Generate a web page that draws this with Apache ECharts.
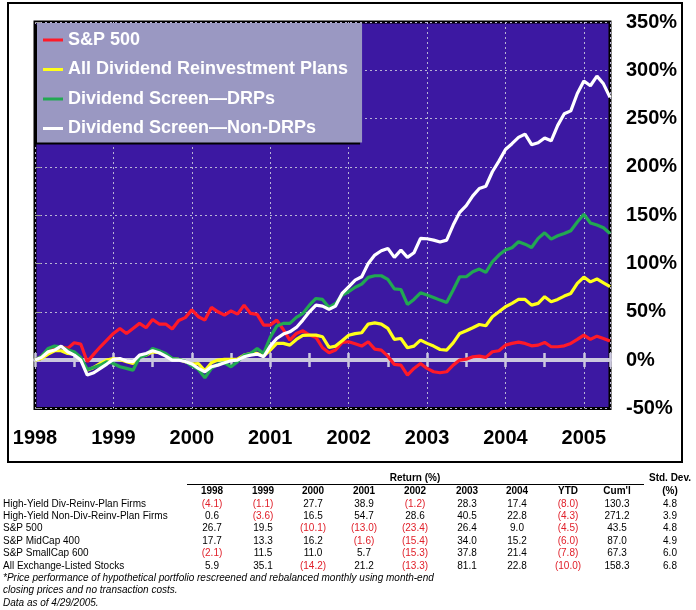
<!DOCTYPE html>
<html>
<head>
<meta charset="utf-8">
<script src="https://cdn.jsdelivr.net/npm/echarts@6.0.0/dist/echarts.min.js"></script>
<style>
html,body{margin:0;padding:0;background:#fff;}
#chart{width:696px;height:610px;}
</style>
</head>
<body>
<div id="chart"></div>
<script>
// ---- chart data (monthly, Dec 1997 = 0 .. Apr 2005) ----
const yearLabels = ['1998','1999','2000','2001','2002','2003','2004','2005'];
const seriesNames = ['S&P 500','All Dividend Reinvestment Plans','Dividend Screen\u2014DRPs','Dividend Screen\u2014Non-DRPs'];
const sp500 = [0,4.1,10.4,13.8,13.8,12.1,18,16.6,-1.7,6.2,13.8,20.7,
  27.6,32.8,27.6,32.8,38,33.5,42.1,37.3,37.3,32.1,41,44,
  52,44.9,41.4,54.5,50,46.6,51,47.6,56.9,48.3,47.3,36.2,
  36.2,41.4,31.7,20.7,27.6,30.4,25.9,23.5,12.8,7.6,10.4,18.3,
  19,17,14.5,19,11.4,10.4,4.1,-4.5,-5.2,-15.5,-8.6,-3.5,
  -8.6,-12.1,-13.1,-12.1,-5.2,0,1,3.5,4.1,2.8,8.6,9.7,
  15.5,17.3,18.6,17.3,14.8,15.5,18.3,13.8,13.8,14.8,17.3,21.4,
  25.9,21.4,24.8,22.4,19.7];
const allDrps = [0,1.7,6.2,9.7,9.7,6.9,6.2,0.7,-10.4,-7.6,-3.5,0,
  1.7,0.7,-1.7,-3.5,3.5,5.2,8.6,7.6,5.2,1.4,0.7,-1.7,
  -4.1,-3.5,-11,-2.8,0,0.7,0.7,1,5.2,6.9,6.9,4.1,
  10.4,17.3,17.3,15.5,21.4,25.5,25.9,25.9,24.2,13.1,14.5,20,
  25.7,27.4,28.3,37.3,38.6,37.3,32.8,21.4,22.4,12.8,14.5,20.7,
  17.3,14.5,11,10.4,17.9,27.6,30.4,33.5,36.9,35.5,44.9,50,
  55.2,58.7,62.8,62.8,56.9,58.7,65.6,60.4,62.8,66.3,69,79.4,
  86,81,84,80,76];
const screenDrps = [0,4.1,12.1,14.5,13.8,10.4,8.6,2.8,-9.7,-7.6,-5.2,-1.7,
  -3.5,-6.9,-8.6,-10.4,2.8,5.2,12.1,9.7,6.9,1.7,0.7,-1.2,
  -6,-9.7,-18.3,-8.6,-4.1,-2.8,-6.9,-1.7,5.2,6.9,12.1,6.9,
  23.5,35.2,38,38,44.2,48.3,56.9,63.8,62.8,54.5,58.7,67.3,
  70.8,75.4,78.7,85.6,87.3,87.3,83.5,73.8,73.1,57.6,62.8,69.7,
  67.3,64.9,62.1,59.7,72.5,86.3,86.3,91.4,94.2,90.8,101.8,108.7,
  113.9,116.3,122.5,120,116.6,126,131.8,125.3,128.7,131,133.9,143,
  151,142,139.8,137,131];
const screenNonDrps = [0,2.8,8.6,10.4,14.5,8.6,5.2,0,-15.5,-13.1,-8.6,-4.1,
  0.7,1.7,-1,-1.7,5.2,6.9,9.7,7.6,4.1,0,0,-1.4,
  -4,-8.6,-12.1,-6.9,-5.2,-2.8,-0.7,0,3.5,5.2,6.2,3.5,
  14.5,22.4,26.9,29.3,33.8,41.4,50,56.9,55.9,52.5,55.9,69,
  75.7,82.8,86.3,100,108.7,113.2,115.6,106.3,113.9,106.3,111.1,126,
  125.6,124.2,122.2,124.2,139.8,153,160,170,177.7,180,195,206,
  218,224,230.5,234,223,225,230,227,243,255,258,276,
  289,284,294,286,272];
const yTicks = [-50,0,50,100,150,200,250,300,350];

// ---- table data ----
const tableCols = ['1998','1999','2000','2001','2002','2003','2004','YTD',"Cum'l"];
const rowLabels = ['High-Yield Div-Reinv-Plan Firms','High-Yield Non-Div-Reinv-Plan Firms','S&P 500','S&P MidCap 400','S&P SmallCap 600','All Exchange-Listed Stocks'];
const rowHYDiv = [-4.1,-1.1,27.7,38.9,-1.2,28.3,17.4,-8.0,130.3,4.8];
const rowHYNonDiv = [0.6,-3.6,16.5,54.7,28.6,40.5,22.8,-4.3,271.2,3.9];
const rowSP500 = [26.7,19.5,-10.1,-13.0,-23.4,26.4,9.0,-4.5,43.5,4.8];
const rowMid400 = [17.7,13.3,16.2,-1.6,-15.4,34.0,15.2,-6.0,87.0,4.9];
const rowSmall600 = [-2.1,11.5,11.0,5.7,-15.3,37.8,21.4,-7.8,67.3,6.0];
const rowAllListed = [5.9,35.1,-14.2,21.2,-13.3,81.1,22.8,-10.0,158.3,6.8];
const footnotes = ['*Price performance of hypothetical portfolio rescreened and rebalanced monthly using month-end',
  'closing prices and no transaction costs.',
  'Data as of 4/29/2005.'];

// ---- build ----
const FONT = "'Liberation Sans', Arial, Helvetica, sans-serif";
const colors = ['#ff1a28','#ffff1a','#22a852','#ffffff'];
const allSeries = [sp500, allDrps, screenDrps, screenNonDrps];
const toPairs = arr => arr.map((v,i)=>[i,v]);

const chart = echarts.init(document.getElementById('chart'), null, {renderer:'canvas'});

const graphics = [];
graphics.push({type:'rect', shape:{x:8,y:3,width:674,height:459}, style:{fill:'none',stroke:'#000',lineWidth:2}, z:0});

function txt(x,y,text,opt){
  opt = opt || {};
  return {type:'text', z:10, style:{x:x,y:y,text:text,
    fill:opt.fill||'#000',
    font:(opt.italic?'italic ':'')+(opt.bold?'bold ':'')+(opt.size||10)+'px '+FONT,
    textAlign:opt.align||'left', align:opt.align||'left',
    textVerticalAlign:'middle', verticalAlign:'middle'}};
}
const colX = [212,263,313,364,415,467,517,568,617,670];
const rowY = [504,516.5,528.5,541,553,566];
graphics.push(txt(415,478,'Return (%)',{bold:true,align:'center'}));
graphics.push(txt(670,478,'Std. Dev.',{bold:true,align:'center'}));
graphics.push(txt(670,491,'(%)',{bold:true,align:'center'}));
graphics.push({type:'line', shape:{x1:187,y1:484.5,x2:644,y2:484.5}, style:{stroke:'#000',lineWidth:1}});
tableCols.forEach((c,i)=>graphics.push(txt(colX[i],491,c,{bold:true,align:'center'})));
const rows = [rowHYDiv,rowHYNonDiv,rowSP500,rowMid400,rowSmall600,rowAllListed];
rows.forEach((r,ri)=>{
  graphics.push(txt(3,rowY[ri],rowLabels[ri]));
  r.forEach((v,ci)=>{
    const neg = v<0;
    const s = neg ? '('+Math.abs(v).toFixed(1)+')' : v.toFixed(1);
    graphics.push(txt(colX[ci],rowY[ri],s,{align:'center',fill:neg?'#e0202a':'#000'}));
  });
});
footnotes.forEach((f,i)=>graphics.push(txt(3,578+i*12.5,f,{italic:true})));

const gridLine = {show:true, lineStyle:{color:'#b8b4d4', width:1, type:[2,3]}};

const option = {
  backgroundColor:'#ffffff',
  animation:false,
  textStyle:{fontFamily:FONT},
  grid:{left:35, right:86, top:22, height:386.4, show:true, backgroundColor:'#3c18a2', borderColor:'#000', borderWidth:3, containLabel:false},
  legend:{
    orient:'vertical', left:37, top:23,
    data:seriesNames,
    icon:'rect', itemWidth:20, itemHeight:3, itemGap:9.5,
    padding:[7,14,4,6],
    backgroundColor:'#9a98c2',
    shadowColor:'#000', shadowBlur:0, shadowOffsetX:-2, shadowOffsetY:2,
    textStyle:{color:'#fff', fontWeight:'bold', fontSize:18, lineHeight:20, fontFamily:FONT},
    selectedMode:false
  },
  xAxis:[
    {type:'value', min:0, max:88, interval:12,
     axisLine:{show:false}, axisTick:{show:false},
     splitLine:gridLine,
     axisLabel:{margin:20, fontSize:20, fontWeight:'bold', color:'#000', fontFamily:FONT,
       formatter:v=> (v%12===0 && v/12<yearLabels.length) ? yearLabels[v/12] : ''}},
    {type:'value', min:0, max:88, interval:6,
     axisLine:{show:true, onZero:true, onZeroAxisIndex:0, lineStyle:{color:'#cbc8de', width:4}},
     axisTick:{show:true, inside:true, length:7, lineStyle:{color:'#cbc8de', width:2.5}},
     axisLabel:{show:false}, splitLine:{show:false}},
    {type:'value', min:0, max:88, interval:6,
     axisLine:{show:false, onZero:true, onZeroAxisIndex:0},
     axisTick:{show:true, inside:false, length:7, lineStyle:{color:'#cbc8de', width:2.5}},
     axisLabel:{show:false}, splitLine:{show:false}}
  ],
  yAxis:{type:'value', position:'right', min:yTicks[0], max:yTicks[yTicks.length-1], interval:50,
    axisLine:{show:false},
    axisTick:{show:true, length:6, lineStyle:{color:'#999'}},
    splitLine:gridLine,
    axisLabel:{margin:16, fontSize:20, fontWeight:'bold', color:'#000', fontFamily:FONT, formatter:v=>v+'%'}},
  series: allSeries.map((arr,i)=>({
    name:seriesNames[i], type:'line', xAxisIndex:0, data:toPairs(arr),
    symbol:'none', lineStyle:{width:3.2, color:colors[i]}, itemStyle:{color:colors[i]}, z:3+i
  })),
  graphic:graphics
};
chart.setOption(option);
</script>
</body>
</html>
